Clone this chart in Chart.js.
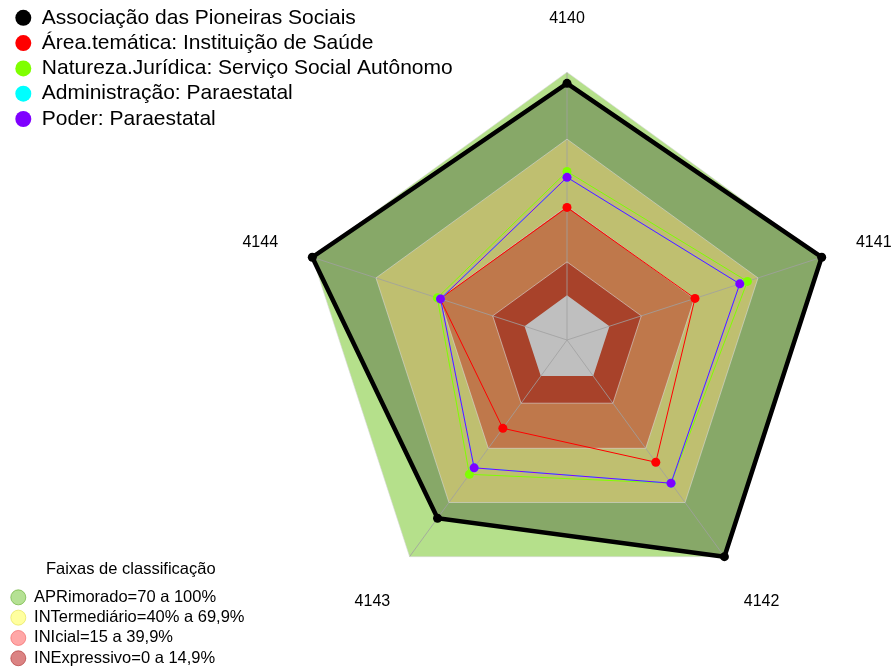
<!DOCTYPE html>
<html lang="pt">
<head>
<meta charset="UTF-8">
<title>Radar - Associação das Pioneiras Sociais</title>
<script src="https://cdn.jsdelivr.net/npm/chart.js"></script>
<style>
    body { margin: 0; background: #fff; overflow: hidden; }
    #wrap { position: relative; width: 892px; height: 668px; overflow: hidden; }
    canvas { position: absolute; }
</style>
</head>
<body>
<div id="wrap">
    <canvas id="radar" width="899" height="690" style="left:0;top:-22px"></canvas>
    <canvas id="seriesLegend" width="960" height="150" style="left:10.7px;top:3px"></canvas>
    <canvas id="bandLegend" width="600" height="118" style="left:6.7px;top:561px"></canvas>
</div>
<script>
// axes of the radar
const axisLabels = ["4140", "4141", "4142", "4143", "4144"];

// series (percent of the indicator)
const seriesNames = [
    "Associação das Pioneiras Sociais",
    "Área.temática: Instituição de Saúde",
    "Natureza.Jurídica: Serviço Social Autônomo",
    "Administração: Paraestatal",
    "Poder: Paraestatal"
];
const associacao = [95, 100, 100, 78.7, 100];
const areaTematica = [39.4, 40.3, 47.7, 28.9, 39.8];
const naturezaJuridica = [55.5, 65.0, 59.3, 54.4, 41.1];
const administracao = [52.9, 61.4, 59.3, 50.8, 39.6];
const poder = [52.9, 61.4, 59.3, 50.8, 39.6];

// classification bands (upper limit of each band)
const bandNames = [
    "APRimorado=70 a 100%",
    "INTermediário=40% a 69,9%",
    "INIcial=15 a 39,9%",
    "INExpressivo=0 a 14,9%"
];
const bandLimits = [100, 70, 40, 15];

Chart.defaults.font.family = "'Liberation Sans', Arial, sans-serif";
Chart.defaults.color = "#000";

const seriesData = [associacao, areaTematica, naturezaJuridica, administracao, poder];
const seriesColors = ["#000000", "#FF0000", "#7FFF00", "#00FFFF", "#7F00FF"];
const bandFill = ["#B5E08B", "#FFFF96", "#FFA065", "#E05838"];
const bandLegendFill = ["rgba(120,200,60,0.55)", "rgba(255,255,80,0.55)", "rgba(255,60,60,0.45)", "rgba(190,30,30,0.55)"];
const bandLegendEdge = ["rgba(110,180,60,0.7)", "rgba(230,230,90,0.7)", "rgba(240,90,90,0.6)", "rgba(170,40,40,0.6)"];

// series lines; the first one also shades its area
const lineSets = seriesNames.map((name, i) => ({
    label: name,
    data: seriesData[i],
    borderColor: seriesColors[i],
    backgroundColor: i === 0 ? "rgba(0,0,0,0.25)" : seriesColors[i],
    pointBackgroundColor: seriesColors[i],
    pointBorderWidth: 0,
    pointRadius: i === 0 ? 4.5 : 4.5,
    borderWidth: i === 0 ? 4.5 : 1,
    fill: i === 0 ? "start" : false,
    order: 5 - i
}));

// background bands, outer first
const bandSets = bandLimits.map((lim, i) => ({
    label: bandNames[i],
    data: axisLabels.map(() => lim),
    backgroundColor: bandFill[i],
    borderColor: "rgba(215,215,215,0.6)",
    borderWidth: 1,
    pointRadius: 0,
    fill: "start",
    order: 10 - i
}));
bandSets.push({
    label: "base",
    data: axisLabels.map(() => 0),
    backgroundColor: "#FFFFFF",
    borderWidth: 0,
    pointRadius: 0,
    fill: "start",
    order: 6
});

new Chart(document.getElementById("radar"), {
    type: "radar",
    data: {
        labels: axisLabels,
        datasets: lineSets.concat(bandSets)
    },
    options: {
        responsive: false,
        animation: false,
        devicePixelRatio: 1,
        layout: { padding: { top: 0, bottom: 27, left: 235, right: 0 } },
        elements: { line: { tension: 0 } },
        plugins: {
            legend: { display: false },
            tooltip: { enabled: false },
            filler: { drawTime: "beforeDraw" }
        },
        scales: {
            r: {
                min: -20,
                max: 100,
                ticks: { display: false, stepSize: 20 },
                grid: { display: false },
                angleLines: { display: true, color: "rgba(160,160,160,0.8)", lineWidth: 1 },
                pointLabels: {
                    color: "#000",
                    font: ctx => ({ size: 16, lineHeight: [1.2, 0.5, 2.25, 2.25, 0.5][ctx.index] }),
                    padding: ctx => [44, 36, 33, 33, 36][ctx.index]
                }
            }
        }
    }
});

// legend of the series
new Chart(document.getElementById("seriesLegend"), {
    type: "line",
    data: {
        labels: [],
        datasets: seriesNames.map((name, i) => ({
            label: name,
            data: [],
            backgroundColor: seriesColors[i],
            borderColor: seriesColors[i],
            pointBorderWidth: 0
        }))
    },
    options: {
        responsive: false,
        animation: false,
        devicePixelRatio: 1,
        scales: { x: { display: false }, y: { display: false } },
        plugins: {
            tooltip: { enabled: false },
            legend: {
                position: "left",
                align: "start",
                labels: {
                    usePointStyle: true,
                    pointStyle: "circle",
                    boxWidth: 16,
                    boxHeight: 11.3,
                    padding: 4.3,
                    color: "#000",
                    font: { size: 21 }
                }
            }
        }
    }
});

// legend of the classification bands
new Chart(document.getElementById("bandLegend"), {
    type: "line",
    data: {
        labels: [],
        datasets: bandNames.map((name, i) => ({
            label: name,
            data: [],
            backgroundColor: bandLegendFill[i],
            borderColor: bandLegendEdge[i],
            pointBorderWidth: 1
        }))
    },
    options: {
        responsive: false,
        animation: false,
        devicePixelRatio: 1,
        scales: { x: { display: false }, y: { display: false } },
        plugins: {
            tooltip: { enabled: false },
            legend: {
                position: "left",
                align: "start",
                title: {
                    display: true,
                    text: "Faixas de classificação",
                    color: "#000",
                    font: { size: 16.5 },
                    padding: { top: 0, bottom: 4.5 }
                },
                labels: {
                    usePointStyle: true,
                    pointStyle: "circle",
                    boxWidth: 15,
                    boxHeight: 10.6,
                    padding: 3.8,
                    color: "#000",
                    font: { size: 16.5 }
                }
            }
        }
    }
});
</script>
</body>
</html>
